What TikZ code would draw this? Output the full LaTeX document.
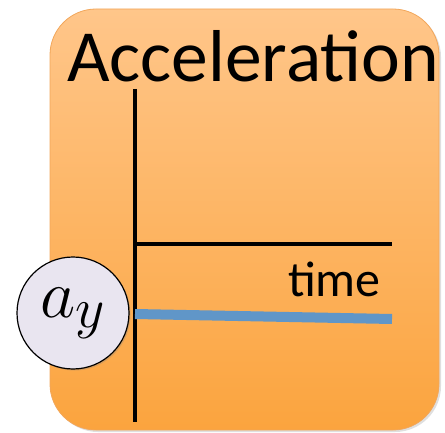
\documentclass[tikz,border=0pt]{standalone}
\usepackage{fontspec}
\setmainfont{Carlito}
\usepackage{xcolor}
\usepackage{tikz}
\usetikzlibrary{shadows,positioning}
\definecolor{paneltop}{HTML}{FFC68A}
\definecolor{panelbot}{HTML}{FBA43E}
\definecolor{panelrim}{HTML}{F2A65A}
\definecolor{sigblue}{HTML}{6096C8}
\definecolor{badgefill}{HTML}{E9E5F0}
\tikzset{
  panel/.style={rounded corners=46pt,top color=paneltop,bottom color=panelbot,draw=panelrim,line width=0.8pt,
    drop shadow={opacity=0.25,shadow xshift=2pt,shadow yshift=-2pt}},
  axis/.style={line width=4.2pt,black},
  signal/.style={line width=10pt,sigblue},
  badge/.style={circle,draw,line width=1.2pt,fill=badgefill,minimum size=112pt,inner sep=0pt,
    drop shadow={opacity=0.3,shadow xshift=1.5pt,shadow yshift=-1.5pt}},
}

\begin{document}
\begin{tikzpicture}[x=1pt,y=-1pt]
\useasboundingbox (0,0) rectangle (445,433);
\path[panel] (50,9) rectangle (439,430);
\node[anchor=base west,inner sep=0pt,font=\fontsize{73.5}{80}\selectfont] (title) at (67,82) {Acceleration};
% axes
\coordinate (ytop) at (135,89);
\coordinate (ybot) at (135,422);
\coordinate (origin) at (135,244);
\coordinate (xend) at (392,244);
\draw[axis] (ytop) -- (ybot);
\draw[axis] (origin) -- (xend);
\node[anchor=base east,inner sep=0pt,font=\fontsize{50}{56}\selectfont] (tlabel) at (381,296) {time};
% signal
\coordinate (sigstart) at (135,314);
\coordinate (sigend) at (392,319);
\draw[signal] (sigstart) -- (sigend);
\node[badge] (ay) at (73,313) {\scalebox{2.75}{\Huge$a_y$}};
\end{tikzpicture}
\end{document}
